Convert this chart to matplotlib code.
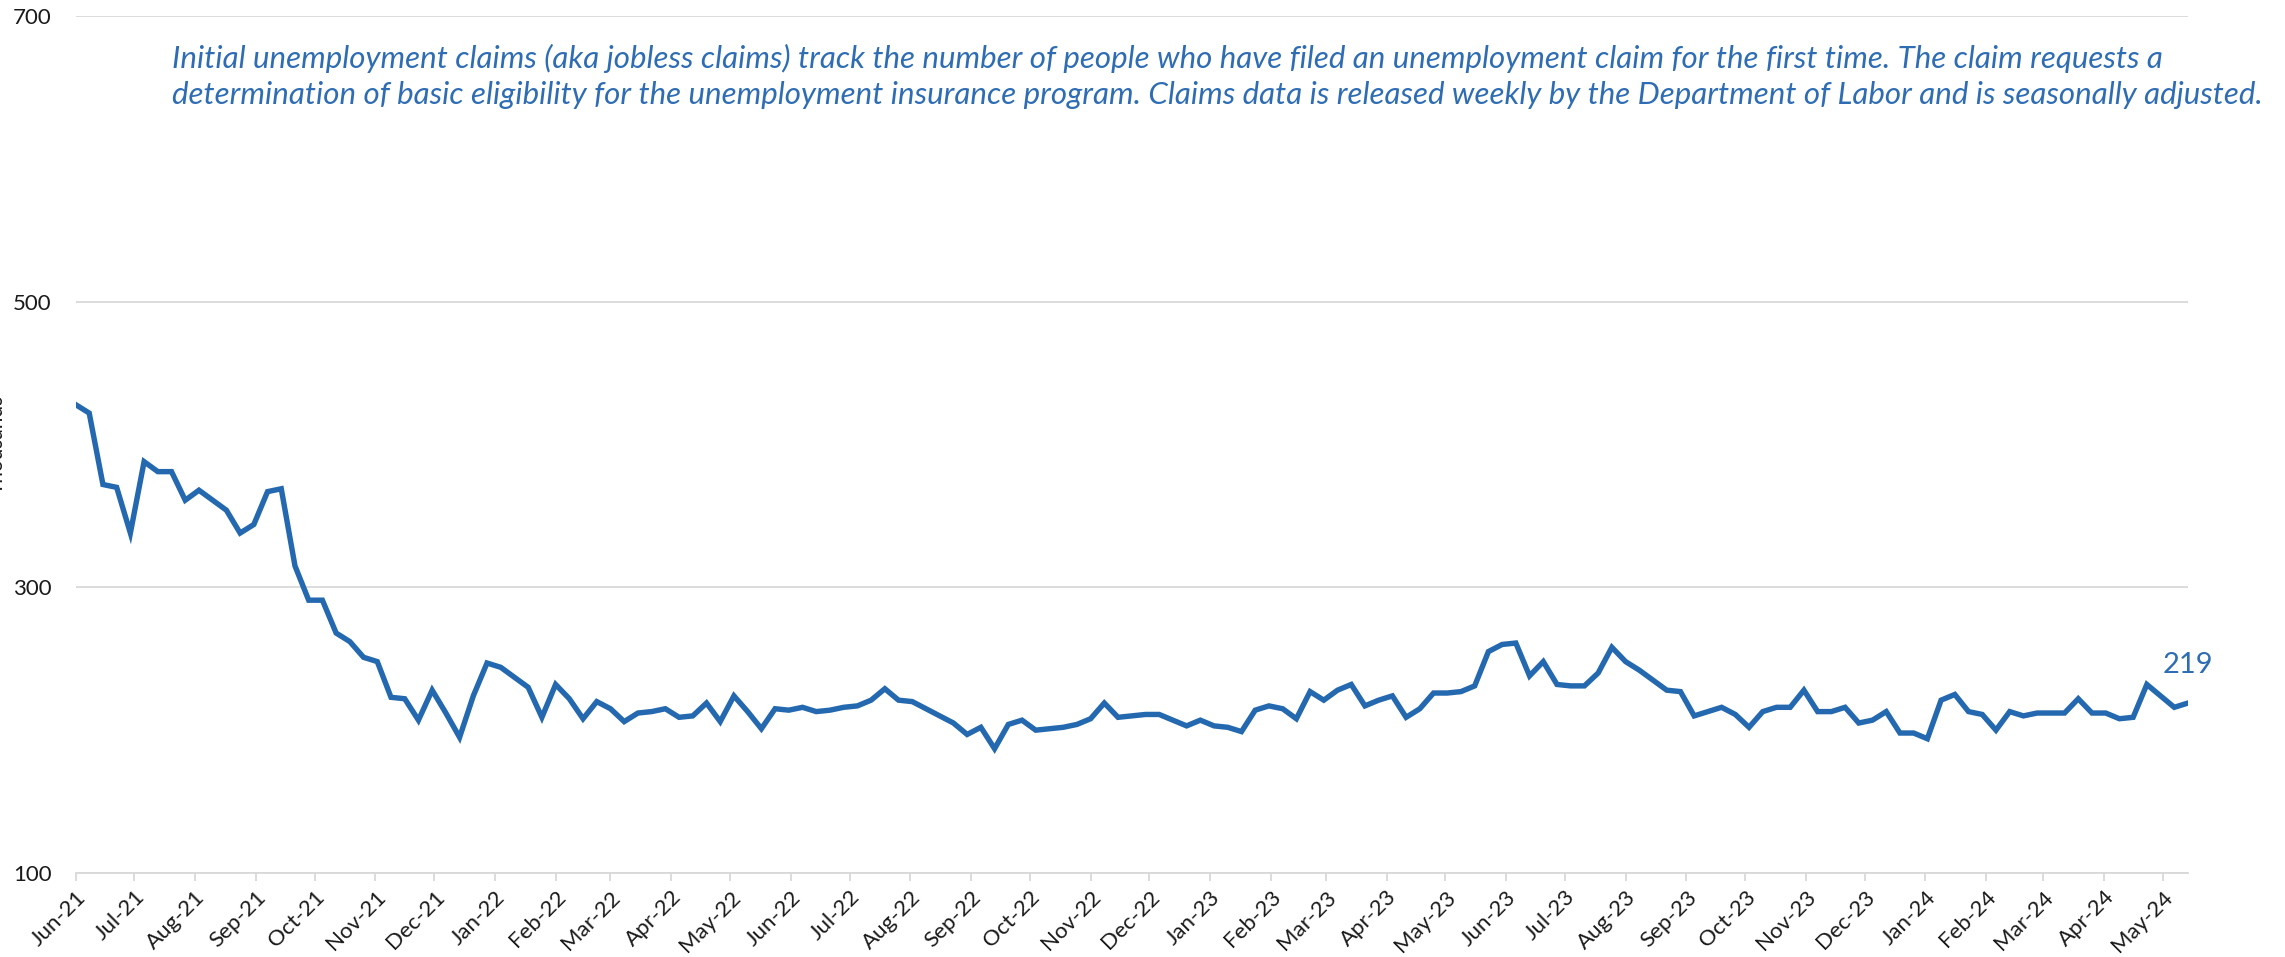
import matplotlib
import numpy as np
import pandas as pd

matplotlib.use("Agg")
import matplotlib.pyplot as plt
import matplotlib.dates as mdates

# weekly initial jobless claims, thousands, week ending Saturday
START_WEEK = "2021-06-12"
claims = [
    428, 422, 372, 370, 338, 388, 381, 381, 361, 368,
    361, 354, 338, 344, 367, 369, 315, 291, 291, 268,
    262, 251, 248, 223, 222, 207, 228, 212, 195, 224,
    247, 244, 237, 230, 209, 232, 222, 208, 220, 215,
    206, 212, 213, 215, 209, 210, 219, 206, 224, 213,
    201, 215, 214, 216, 213, 214, 216, 217, 221, 229,
    221, 220, 215, 210, 205, 197, 202, 187, 204, 207,
    200, 201, 202, 204, 208, 219, 209, 210, 211, 211,
    207, 203, 207, 203, 202, 199, 214, 217, 215, 208,
    227, 221, 228, 232, 217, 221, 224, 209, 215, 226,
    226, 227, 231, 255, 260, 261, 238, 248, 232, 231,
    231, 240, 258, 248, 242, 235, 228, 227, 210, 213,
    216, 211, 202, 213, 216, 216, 228, 213, 213, 216,
    205, 207, 213, 198, 198, 194, 221, 225, 213, 211,
    200, 213, 210, 212, 212, 212, 222, 212, 212, 208,
    209, 232, 224, 216, 219,
]
y_ticks = [100, 300, 500, 700]
note = (
    "Initial unemployment claims (aka jobless claims) track the number of people who have filed an "
    "unemployment claim for the first time. The claim requests a\n"
    "determination of basic eligibility for the unemployment insurance program. Claims data is "
    "released weekly by the Department of Labor and is seasonally adjusted."
)

LINE_COLOR = "#2469AF"
TEXT_BLUE = "#2E6DB4"
GRID_COLOR = "#D9D9D9"

plt.rcParams["font.family"] = ["Lato", "DejaVu Sans"]

dates = pd.date_range(START_WEEK, periods=len(claims), freq="W-SAT")
series = pd.Series(claims, index=dates)

W, H = 2285, 957
fig = plt.figure(figsize=(W / 100, H / 100), dpi=100)
ax = fig.add_axes([75.5 / W, 1 - 873 / H, (2188 - 75.5) / W, (873 - 16) / H])

ax.plot(series.index, series.values, color=LINE_COLOR, linewidth=3.9,
        solid_joinstyle="miter", zorder=3)

ax.set_xlim(dates[0], dates[-1])
ax.set_ylim(y_ticks[0], y_ticks[-1])
ax.set_yticks(y_ticks)
ax.yaxis.grid(True, color=GRID_COLOR, linewidth=1.3)
ax.set_axisbelow(True)

ax.xaxis.set_major_locator(mdates.MonthLocator(bymonthday=dates[0].day))
ax.xaxis.set_major_formatter(mdates.DateFormatter("%b-%y"))

for side in ["top", "right", "left"]:
    ax.spines[side].set_visible(False)
ax.spines["bottom"].set_color(GRID_COLOR)
ax.spines["bottom"].set_linewidth(1.3)

ax.tick_params(axis="y", length=0, pad=17, labelsize=16, labelcolor="#1a1a1a")
ax.tick_params(axis="x", length=6, width=1.3, color=GRID_COLOR, pad=4,
               labelsize=16, labelcolor="#1a1a1a")
for lbl in ax.get_xticklabels():
    lbl.set_rotation(45)
    lbl.set_ha("right")
    lbl.set_rotation_mode("anchor")

# last value label
ax.annotate(f"{series.iloc[-1]}", xy=(series.index[-1], series.iloc[-1]),
            xytext=(-18, 18), textcoords="offset points", ha="left", va="bottom",
            fontsize=21, color=TEXT_BLUE, annotation_clip=False)

fig.text(172 / W, 1 - 44 / H, note, ha="left", va="top", fontsize=22.5,
         style="italic", color=TEXT_BLUE, linespacing=1.33)

fig.text(7 / W, 1 - 444 / H, "Thousands", rotation=90, ha="right", va="center",
         fontsize=15, color="#1a1a1a")

fig.savefig("out.png", dpi=100)
